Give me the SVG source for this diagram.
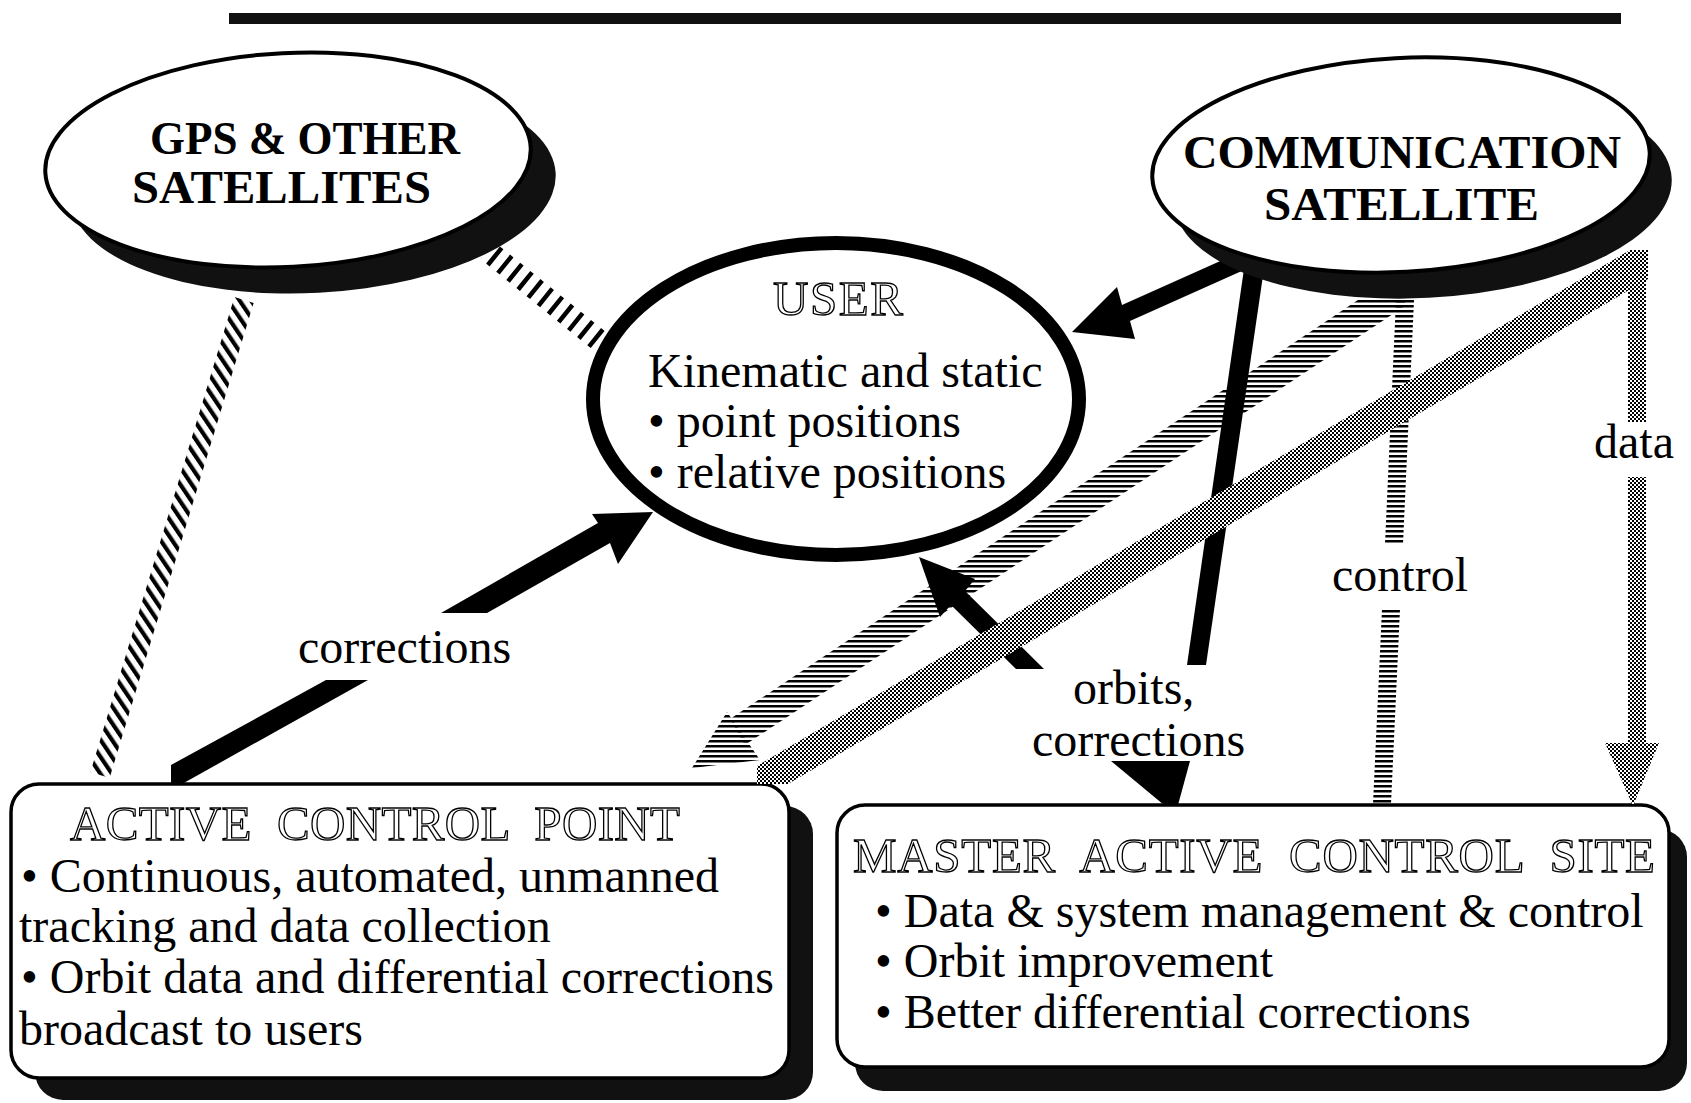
<svg xmlns="http://www.w3.org/2000/svg" width="1691" height="1103" viewBox="0 0 1691 1103">
<defs>
  <pattern id="stripeH" width="10" height="5" patternUnits="userSpaceOnUse"><rect width="10" height="2.5" fill="#000"/></pattern>
  <pattern id="checker" width="4" height="4" patternUnits="userSpaceOnUse"><rect width="4" height="4" fill="#fff"/><rect width="2" height="2" fill="#000"/><rect x="2" y="2" width="2" height="2" fill="#000"/></pattern>
  <pattern id="hatchD" width="9.5" height="20" patternUnits="userSpaceOnUse" patternTransform="rotate(-34)"><rect width="4.2" height="20" fill="#000"/></pattern>
</defs>
<style>
  .t{font-family:"Liberation Serif","Times New Roman",serif;font-size:48px;fill:#000}
  .tb{font-family:"Liberation Serif","Times New Roman",serif;font-weight:bold;font-size:46px;fill:#000}
  .ol{font-family:"Liberation Serif","Times New Roman",serif;font-size:49px;fill:#fff;stroke:#000;stroke-width:1.3}
  .sh{fill:#111}
  .box{fill:#fff;stroke:#000;stroke-width:3.5}
  .ell{fill:#fff;stroke:#000;stroke-width:4}
  .blk{fill:#000}
</style>
<rect width="1691" height="1103" fill="#fff"/>
<g id="rule"><rect x="229" y="13" width="1392" height="11" fill="#111"/></g>

<g id="node-user">
  <ellipse cx="836" cy="399" rx="243" ry="156" fill="#fff" stroke="#000" stroke-width="14"/>
  <text class="ol" x="773" y="315" textLength="130">USER</text>
  <text class="t" x="648" y="387">Kinematic and static</text>
  <text class="t" x="648" y="437">• point positions</text>
  <text class="t" x="648" y="488">• relative positions</text>
</g>

<g id="node-acp">
  <rect class="sh" x="35" y="806" width="778" height="294" rx="28"/>
  <rect class="box" x="11" y="784" width="778" height="294" rx="28"/>
  <text class="ol" x="70" y="840" textLength="610" xml:space="preserve">ACTIVE  CONTROL  POINT</text>
  <text class="t" x="21" y="892">• Continuous, automated, unmanned</text>
  <text class="t" x="19" y="942">tracking and data collection</text>
  <text class="t" x="21" y="993">• Orbit data and differential corrections</text>
  <text class="t" x="19" y="1045">broadcast to users</text>
</g>

<g id="node-macs">
  <rect class="sh" x="855" y="829" width="832" height="262" rx="28"/>
  <rect class="box" x="837" y="805" width="832" height="262" rx="28"/>
  <text class="ol" x="853" y="872" textLength="802" xml:space="preserve">MASTER  ACTIVE  CONTROL  SITE</text>
  <text class="t" x="875" y="927">• Data &amp; system management &amp; control</text>
  <text class="t" x="875" y="977">• Orbit improvement</text>
  <text class="t" x="875" y="1028">• Better differential corrections</text>
</g>

<g id="connectors">
  <!-- GPS -> USER (dashed hatched band) -->
  <line x1="493" y1="255" x2="602" y2="343" stroke="#000" stroke-width="22" stroke-dasharray="4.5 8.5"/>
  <!-- GPS -> ACP (diagonal hatched band) -->
  <polygon points="234.4,297.1 253.6,302.9 109.6,777.9 90.4,772.1" fill="url(#hatchD)"/>
  <!-- ACP -> USER corrections (black arrow, split by label) -->
  <polygon class="blk" points="171,784 171,765 326,680 368,680 182,784"/>
  <polygon class="blk" points="441,613 487,613 610,543 618,564 653,512 592,514 598,523"/>
  <!-- COMM -> USER (black arrow) -->
  <polygon class="blk" points="1072,332 1117,287 1122,305 1236,254 1244,270 1130,321 1135,339"/>
  <!-- COMM -> MACS orbits, corrections (black line + head) -->
  <polygon class="blk" points="1246,255 1266,255 1206,665 1187,665"/>
  <polygon class="blk" points="1111,761 1190,761 1178,805 1164,805"/>
  <!-- MACS -> USER (black arrow) -->
  <polygon class="blk" points="919,557 975,579 965,591 1044,669 1016,669 951,605 940,617"/>
  <!-- COMM -> ACP (horizontal-stripe band + head) -->
  <polygon points="1358,300 1405,300 1405,306 745,745 730,719" fill="url(#stripeH)"/>
  <polygon points="727,712 692,768 760,760" fill="url(#stripeH)"/>
  <!-- control band MACS -> COMM -->
  <polygon points="1396,300 1414,300 1403,544 1385,544" fill="url(#stripeH)"/>
  <polygon points="1382,609 1400,609 1391,804 1373,804" fill="url(#stripeH)"/>
  <!-- COMM -> ACP (checker band) -->
  <polygon points="757,766 1630,250 1648,250 1648,279 788,784 757,784" fill="url(#checker)"/>
  <!-- data band COMM -> MACS -->
  <rect x="1628" y="250" width="18" height="172" fill="url(#checker)"/>
  <rect x="1628" y="477" width="18" height="268" fill="url(#checker)"/>
  <polygon points="1605,743 1659,743 1633,806" fill="url(#checker)"/>
</g>

<g id="labels">
  <text class="t" x="298" y="663">corrections</text>
  <text class="t" x="1073" y="704">orbits,</text>
  <text class="t" x="1032" y="756">corrections</text>
  <text class="t" x="1332" y="591">control</text>
  <text class="t" x="1594" y="458">data</text>
</g>

<g id="node-gps">
  <ellipse class="sh" cx="313" cy="186" rx="243" ry="107" transform="rotate(-3 313 186)"/>
  <ellipse class="ell" cx="288" cy="160" rx="243" ry="107" transform="rotate(-3 288 160)"/>
  <text class="tb" x="150" y="154" textLength="310" lengthAdjust="spacingAndGlyphs">GPS &amp; OTHER</text>
  <text class="tb" x="132" y="203" textLength="299" lengthAdjust="spacingAndGlyphs">SATELLITES</text>
</g>

<g id="node-comm">
  <ellipse class="sh" cx="1423" cy="191" rx="249" ry="107" transform="rotate(-3 1423 191)"/>
  <ellipse class="ell" cx="1401" cy="165" rx="249" ry="107" transform="rotate(-3 1401 165)"/>
  <text class="tb" x="1183" y="168" textLength="438" lengthAdjust="spacingAndGlyphs">COMMUNICATION</text>
  <text class="tb" x="1264" y="220" textLength="275" lengthAdjust="spacingAndGlyphs">SATELLITE</text>
</g>
</svg>
